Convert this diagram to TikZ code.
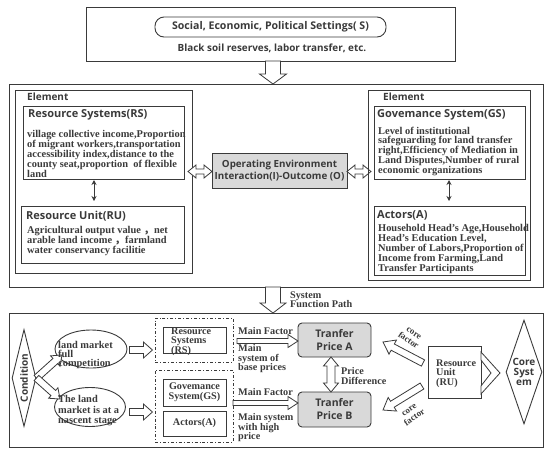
\documentclass[tikz,border=0pt]{standalone}
\usepackage{fontspec}
\setmainfont{Liberation Serif}[BoldFont={Liberation Serif Bold}]
\newfontfamily\hsans{Open Sans}[BoldFont={Open Sans Bold}]
\newfontfamily\cjk{Noto Sans CJK SC}
\usetikzlibrary{calc,shapes.geometric,arrows.meta}
\definecolor{ln}{HTML}{3A3A3A}
\definecolor{gfill}{HTML}{D9D9D9}
\tikzset{
 box/.style={draw=ln, line width=0.9pt, inner sep=0pt, outer sep=0pt, rectangle},
 dbox/.style={box, dash dot},
 head/.style={font=\hsans\bfseries\fontsize{11}{12}\selectfont, inner sep=0pt, anchor=west, text=ln},
 elem/.style={font=\hsans\bfseries\fontsize{10}{12}\selectfont, inner sep=0pt, anchor=west, text=ln},
 body/.style={font=\bfseries\fontsize{10.4}{9.8}\selectfont, align=left, inner sep=0pt, anchor=north west, text=ln},
 lbl/.style={font=\bfseries\fontsize{10.2}{9.4}\selectfont, align=left, inner sep=0pt, anchor=north west, text=ln},
 hollow/.style={draw=ln, line width=0.8pt, fill=white},
 thinarr/.style={draw=ln, line width=1pt, {Stealth[length=5pt,width=5pt]}-{Stealth[length=5pt,width=5pt]}},
 ellnode/.style={draw=ln, line width=0.9pt, ellipse, inner sep=0pt},
 dia/.style={draw=ln, line width=0.9pt, diamond, inner sep=0pt},
}
\newcommand\rectnode[6][]{\node[#1, anchor=north west, minimum width={#5-#3}, minimum height={#6-#4}] (#2) at (#3,#4) {};}
\newcommand\harrow[5]{%
 \coordinate (hA) at (#1);
 \coordinate (hB) at (#2);
 \coordinate (hH) at ($(hB)!#5!(hA)$);
 \draw[hollow] ($(hA)!#3!90:(hB)$) -- ($(hH)!#3!90:(hB)$) -- ($(hH)!#4!90:(hB)$) -- (hB) -- ($(hH)!#4!-90:(hB)$) -- ($(hH)!#3!-90:(hB)$) -- ($(hA)!#3!-90:(hB)$) -- cycle;}
\newcommand\hdarrow[5]{%
 \coordinate (hA) at (#1);
 \coordinate (hB) at (#2);
 \coordinate (hHa) at ($(hA)!#5!(hB)$);
 \coordinate (hHb) at ($(hB)!#5!(hA)$);
 \draw[hollow] (hA) -- ($(hHa)!#4!90:(hB)$) -- ($(hHa)!#3!90:(hB)$) -- ($(hHb)!#3!90:(hB)$) -- ($(hHb)!#4!90:(hB)$) -- (hB) -- ($(hHb)!#4!-90:(hB)$) -- ($(hHb)!#3!-90:(hB)$) -- ($(hHa)!#3!-90:(hB)$) -- ($(hHa)!#4!-90:(hB)$) -- cycle;}
\begin{document}
\begin{tikzpicture}[x=1pt,y=-1pt]
\useasboundingbox (0,0) rectangle (550,456);

% ---- top settings box
\rectnode[box]{top}{86}{7}{455}{61}
\node[box, rounded corners=9pt, minimum width=231, minimum height=20, text=ln,
  font=\hsans\bfseries\fontsize{10.6}{12}\selectfont] (S) at (270.5,27) {Social, Economic, Political Settings( S)};
\node[inner sep=0pt, text=ln, font=\hsans\bfseries\fontsize{9.9}{11}\selectfont] (Sdesc) at (272,48) {Black soil reserves, labor transfer, etc.};

% ---- middle box
\rectnode[box]{mid}{9}{84}{543}{287}
\harrow{$(top.south)+(2.5,0)$}{$(mid.north)+(-3,0)$}{7.5pt}{13.5pt}{10pt}

% left element
\rectnode[box]{elL}{15}{90}{192}{273}
\node[elem] (elLt) at (27,97) {Element};
\rectnode[box]{RS}{23}{106}{184}{179}
\node[head] (RSt) at (28,115) {Resource Systems(RS)};
\node[body] (RSb) at (27,130.5) {village collective income,Proportion\\of migrant workers,transportation\\accessibility index,distance to the\\county seat,proportion\ \ of flexible\\land};
\rectnode[box]{RU}{21}{206}{184}{263}
\node[head] (RUt) at (26,216) {Resource Unit(RU)};
\node[body] (RUb) at (27,226.5) {Agricultural output value {\cjk ，}net\\arable land income {\cjk ，}farmland\\water conservancy facilitie};
\draw[thinarr] ([xshift=-9.5pt,yshift=-1pt]RS.south) -- ([xshift=-8.5pt,yshift=5pt]RU.north);

% operating environment
\node[box, fill=gfill, minimum width=135, minimum height=35, align=center, text=ln,
  font=\hsans\bfseries\fontsize{9.8}{12.5}\selectfont] (OE) at (279.5,170.5) {Operating Environment\\Interaction(I)-Outcome (O)};
\hdarrow{$(OE.west)+(-24,1)$}{$(OE.west)+(0,1)$}{2.5pt}{6.5pt}{8pt}
\hdarrow{$(OE.east)+(0,1)$}{$(OE.east)+(24,1)$}{2.5pt}{6.5pt}{8pt}

% right element
\rectnode[box]{elR}{368}{90}{530}{280}
\node[elem] (elRt) at (383,97) {Element};
\rectnode[box]{GS}{374}{106}{525}{179}
\node[head] (GSt) at (377,115) {Govemance System(GS)};
\node[body] (GSb) at (378,126.5) {Level of institutional\\safeguarding for land transfer\\right,Efficiency of Mediation in\\Land Disputes,Number of rural\\economic organizations};
\rectnode[box]{AC}{374}{206}{525}{275}
\node[head] (ACt) at (377,215) {Actors(A)};
\node[body] (ACb) at (378,224.5) {Household Head's Age,Household\\Head's Education Level,\\Number of Labors,Proportion of\\Income from Farming,Land\\Transfer Participants};
\draw[thinarr] ([xshift=-0.5pt,yshift=-1pt]GS.south) -- ([xshift=-0.5pt,yshift=5pt]AC.north);

% ---- bottom box
\rectnode[box]{bot}{9}{313}{543}{447}
\harrow{$(mid.south)+(-3,0)$}{$(bot.north)+(-3,0)$}{7.5pt}{13pt}{10pt}
\node[lbl] (sfp) at (290,291.5) {System\\Function Path};

% condition
\node[dia, minimum width=24, minimum height=97] (cond) at (24,378) {};
\node[rotate=90, inner sep=0pt, text=ln, font=\hsans\bfseries\fontsize{10}{12}\selectfont] (condt) at (cond.center) {Condition};
\node[ellnode, minimum width=72, minimum height=38] (e1) at (91,349) {};
\node[ellnode, minimum width=71, minimum height=39] (e2) at (90,407) {};
\harrow{cond.east}{$(e1.center)+(-29,6)$}{3.5pt}{7pt}{9pt}
\harrow{cond.east}{$(e2.center)+(-30,-8)$}{3.5pt}{7pt}{9pt}
\node[lbl, font=\bfseries\fontsize{10.4}{8.9}\selectfont] (e1t) at (58,341.5) {land market\\full\\competition};
\node[lbl, font=\bfseries\fontsize{10.4}{10.2}\selectfont] (e2t) at (58,395.5) {The land\\market is at a\\nascent stage};
\harrow{$(e1.east)+(2,1)$}{$(e1.east)+(25,1)$}{3.5pt}{8pt}{9pt}
\harrow{$(e2.east)+(3.5,5)$}{$(e2.east)+(26.5,5)$}{3.5pt}{8pt}{9pt}

% dash-dot groups
\rectnode[dbox]{db1}{155}{318}{233}{362}
\rectnode[box]{rs2}{163}{327}{226}{353}
\node[lbl] (rs2t) at (171,327.5) {Resource\\Systems\\(RS)};
\rectnode[dbox]{db2}{155}{370}{233}{442}
\rectnode[box]{gs2}{163}{379}{226}{406}
\node[inner sep=0pt, align=center, text=ln, font=\bfseries\fontsize{10.2}{10}\selectfont] (gs2t) at (gs2.center) {Govemance\\System(GS)};
\rectnode[box]{ac2}{163}{411}{226}{436}
\node[inner sep=0pt, text=ln, font=\bfseries\fontsize{10.2}{10}\selectfont] (ac2t) at (ac2.center) {Actors(A)};

% prices
\node[box, rounded corners=4pt, fill=gfill, minimum width=73, minimum height=34, align=center, text=ln,
  font=\hsans\bfseries\fontsize{10.5}{13}\selectfont] (PA) at (334.5,340) {Tranfer\\Price A};
\node[box, rounded corners=4pt, fill=gfill, minimum width=73, minimum height=35, align=center, text=ln,
  font=\hsans\bfseries\fontsize{10.5}{13}\selectfont] (PB) at (334.5,409.5) {Tranfer\\Price B};
\node[lbl] (mf1) at (238,327.5) {Main Factor};
\harrow{$(db1.east)+(4,1)$}{$(PA.west)+(0,1)$}{2.5pt}{6.5pt}{10pt}
\node[lbl] (mf1b) at (238,344.5) {Main\\system of\\base prices};
\node[lbl] (mf2) at (238,388.5) {Main Factor};
\harrow{$(db2.east)+(0,-3)$}{$(PB.west)+(0,-6.5)$}{2.5pt}{6.5pt}{10pt}
\node[lbl] (mf2b) at (238,413.5) {Main system\\with high\\price};
\hdarrow{$(PA.south)+(-3.5,0)$}{$(PB.north)+(-3.5,0)$}{4pt}{7.5pt}{9pt}
\node[lbl] (pd) at (341,367.5) {Price\\Difference};

% resource unit and core
\rectnode[box]{ru2}{428}{346}{481}{398}
\node[lbl] (ru2t) at (436,359.5) {Resource\\Unit\\(RU)};
\node[dia, minimum width=36, minimum height=104] (core) at (524,372) {};
\node[inner sep=0pt, align=center, text=ln, font=\hsans\bfseries\fontsize{10}{10}\selectfont] (coret) at (core.center) {Core\\Syst\\em};
\draw[hollow] ($(ru2.north east)+(0,6)$) -- ($(ru2.east)+(19,1)$) -- ($(ru2.south east)+(0,-4)$) -- ($(ru2.south east)+(0,-12)$) -- ($(ru2.east)+(10,1)$) -- ($(ru2.north east)+(0,14)$) -- cycle;
\harrow{$(ru2.north west)+(-5,17)$}{$(PA.east)+(12,2)$}{3.5pt}{8pt}{11pt}
\harrow{$(ru2.south west)+(-6,-12)$}{$(PB.east)+(12,0.5)$}{3.5pt}{8pt}{11pt}
\node[rotate=-35, inner sep=0pt, align=center, text=ln, font=\bfseries\fontsize{9}{9.5}\selectfont] (cf1) at (411,337) {core\\factor};
\node[rotate=35, inner sep=0pt, align=center, text=ln, font=\bfseries\fontsize{9}{9.5}\selectfont] (cf2) at (412,414) {core\\factor};
\end{tikzpicture}
\end{document}
